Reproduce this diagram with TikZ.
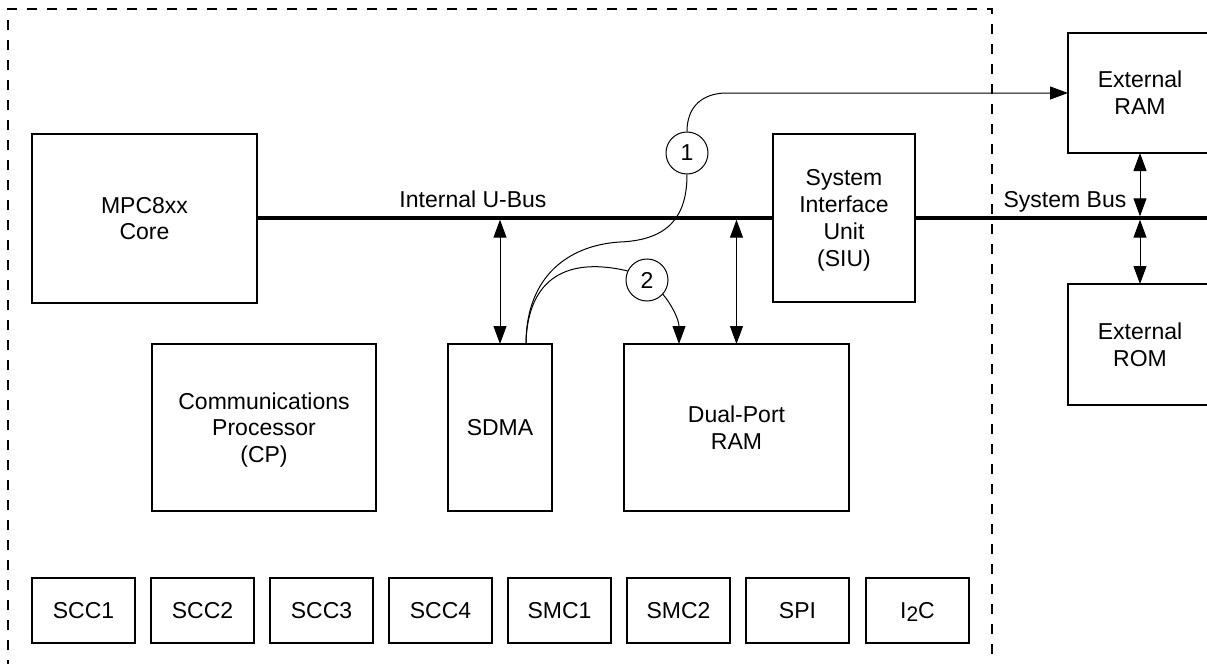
\documentclass[tikz,border=0pt]{standalone}
\usepackage{fontspec}
\setmainfont{Liberation Sans}
\usetikzlibrary{arrows.meta,fit}
\begin{document}
\begin{tikzpicture}[x=0.5pt,y=-0.5pt,
  font=\fontsize{11.5pt}{13.4pt}\selectfont,
  box/.style={draw, line width=1pt, inner sep=0pt, outer sep=0pt},
  txt/.style={align=center, inner sep=0pt, text depth=0pt},
  bus/.style={line width=1.7pt},
  thinarrow/.style={line width=0.5pt,-{Triangle[length=9pt,width=6.5pt]}},
  dblarrow/.style={line width=0.5pt,{Triangle[length=9pt,width=6.5pt]}-{Triangle[length=9pt,width=6.5pt]}},
  flow/.style={line width=0.5pt},
  numcirc/.style={draw, circle, line width=0.5pt, minimum size=21pt, inner sep=0pt, fill=white},
  chip/.style={draw, dash pattern=on 5pt off 5pt, line width=1pt}]
\useasboundingbox (0,0) rectangle (1207,664);
\clip (0,0) rectangle (1207,664);

% chip outline
\draw[chip] (8,670) -- (8,9) -- (992,9) -- (992,670);

% main blocks
\node[box, fit={(32,134) (257,303)}] (core) {};
\node[txt] (coret) at (core.center) {MPC8xx\\Core};
\node[box, fit={(773,134) (915,302)}] (siu) {};
\node[txt] (siut) at (siu.center) {System\\Interface\\Unit\\(SIU)};
\node[box, fit={(152,344) (376,511)}] (cp) {};
\node[txt] (cpt) at (cp.center) {Communications\\Processor\\(CP)};
\node[box, fit={(448,344) (552,511)}] (sdma) {};
\node[txt] (sdmat) at (sdma.center) {SDMA};
\node[box, fit={(624,344) (849,511)}] (dpram) {};
\node[txt] (dpramt) at (dpram.center) {Dual-Port\\RAM};
\node[box, fit={(1068,33) (1212,153)}] (ram) {};
\node[txt] (ramt) at (ram.center) {External\\RAM};
\node[box, fit={(1068,284) (1212,405)}] (rom) {};
\node[txt] (romt) at (rom.center) {External\\ROM};

% peripherals
\foreach \i/\t in {0/SCC1,1/SCC2,2/SCC3,3/SCC4,4/SMC1,5/SMC2,6/SPI}{
  \node[box, fit={(32+119*\i,578) (135+119*\i,643)}] (p\i) {};
  \node[txt] (pt\i) at (p\i.center) {\t};
}
\node[box, fit={(866,578) (969,643)}] (p7) {};
\node[txt] (pt7) at (p7.center) {I\raisebox{-1.6pt}{\fontsize{10.5pt}{12pt}\selectfont 2}C};

% buses
\coordinate (busy) at (0,218);
\coordinate (rightedge) at (1210,218);
\draw[bus] (core.east |- busy) -- (siu.west |- busy);
\draw[bus] (siu.east |- busy) -- (rightedge);
\node[anchor=base] (ublabel) at (473,207) {Internal U-Bus};
\node[anchor=base] (sblabel) at (1065,207) {System Bus};

% bus arrows
\draw[dblarrow, shorten <=0.85pt] (sdma.north |- busy) -- (sdma.north);
\draw[dblarrow, shorten <=0.85pt] (dpram.north |- busy) -- (dpram.north);
\draw[dblarrow, shorten >=0.85pt] (ram.south) -- (ram.south |- busy);
\draw[dblarrow, shorten <=0.85pt] (ram.south |- busy) -- (rom.north);

% DMA transfer paths
\coordinate (o) at (526,344);
\coordinate (dptip) at (679,344);
\node[numcirc] (c1) at (687,153) {1};
\node[numcirc] (c2) at (647,280) {2};
\draw[flow] (o) .. controls (526,275) and (570,245) .. (620,242)
                .. controls (670,240) and (687,215) .. (c1.south);
\draw[thinarrow] (c1.north) .. controls (687,106) and (703,93) .. (727,93) -- (ram.west);
\draw[flow] (o) .. controls (527,285) and (560,255) .. (c2.155);
\draw[thinarrow] (c2.-42) .. controls (672,305) and (679,320) .. (dptip);
\end{tikzpicture}
\end{document}
